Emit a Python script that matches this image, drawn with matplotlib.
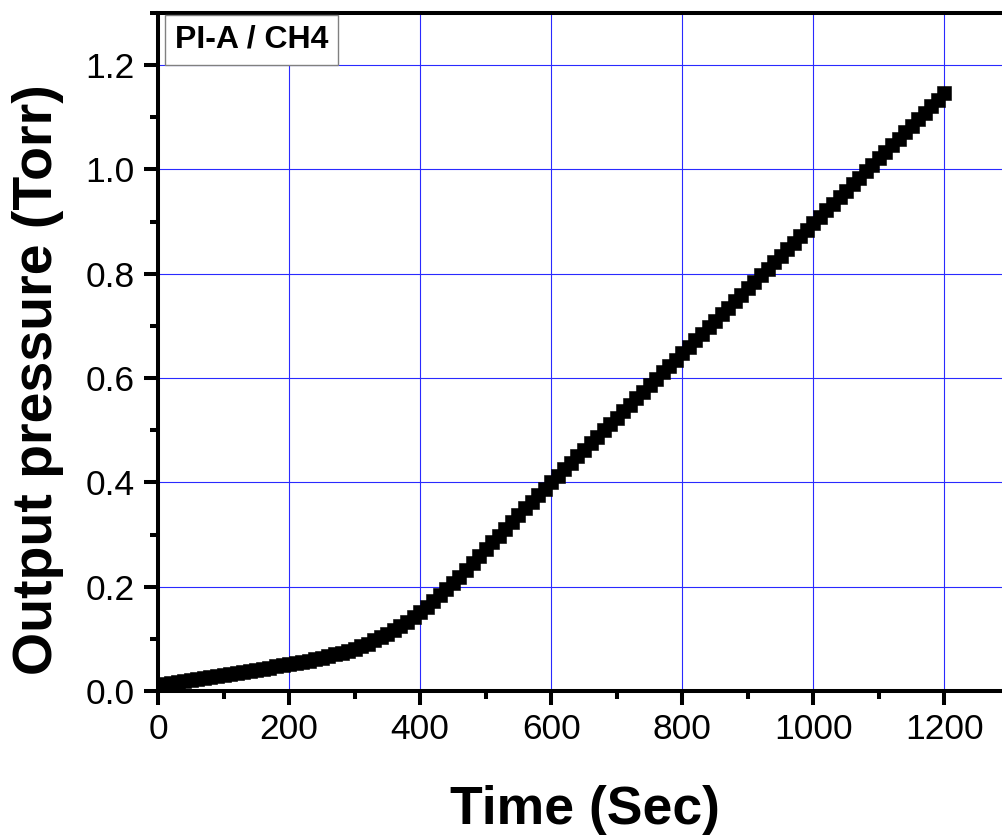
import matplotlib
matplotlib.use("Agg")
import matplotlib.pyplot as plt
from matplotlib.ticker import MultipleLocator

plt.rcParams['font.family'] = ['Liberation Sans', 'DejaVu Sans']

time_s = [0, 10, 20, 30, 40, 50, 60, 70, 80, 90,
          100, 110, 120, 130, 140, 150, 160, 170, 180, 190,
          200, 210, 220, 230, 240, 250, 260, 270, 280, 290,
          300, 310, 320, 330, 340, 350, 360, 370, 380, 390,
          400, 410, 420, 430, 440, 450, 460, 470, 480, 490,
          500, 510, 520, 530, 540, 550, 560, 570, 580, 590,
          600, 610, 620, 630, 640, 650, 660, 670, 680, 690,
          700, 710, 720, 730, 740, 750, 760, 770, 780, 790,
          800, 810, 820, 830, 840, 850, 860, 870, 880, 890,
          900, 910, 920, 930, 940, 950, 960, 970, 980, 990,
          1000, 1010, 1020, 1030, 1040, 1050, 1060, 1070, 1080, 1090,
          1100, 1110, 1120, 1130, 1140, 1150, 1160, 1170, 1180, 1190,
          1200]

pressure = [0.011, 0.013, 0.015, 0.017, 0.019, 0.021, 0.023, 0.025, 0.027, 0.029,
            0.031, 0.033, 0.035, 0.037, 0.039, 0.041, 0.043, 0.045, 0.047, 0.050,
            0.052, 0.054, 0.056, 0.058, 0.061, 0.064, 0.067, 0.070, 0.073, 0.077,
            0.081, 0.086, 0.091, 0.097, 0.103, 0.110, 0.117, 0.125, 0.133, 0.142,
            0.152, 0.162, 0.173, 0.184, 0.195, 0.207, 0.219, 0.232, 0.245, 0.258,
            0.272, 0.285, 0.298, 0.311, 0.324, 0.337, 0.350, 0.363, 0.376, 0.388,
            0.401, 0.413, 0.426, 0.438, 0.450, 0.463, 0.475, 0.487, 0.500, 0.512,
            0.524, 0.537, 0.549, 0.561, 0.574, 0.586, 0.598, 0.611, 0.623, 0.635,
            0.648, 0.660, 0.673, 0.685, 0.698, 0.710, 0.723, 0.735, 0.747, 0.760,
            0.772, 0.785, 0.797, 0.810, 0.822, 0.834, 0.847, 0.859, 0.872, 0.884,
            0.897, 0.909, 0.922, 0.934, 0.947, 0.959, 0.972, 0.984, 0.997, 1.009,
            1.022, 1.034, 1.047, 1.059, 1.072, 1.084, 1.097, 1.109, 1.122, 1.134,
            1.147]

x_ticks = [0, 200, 400, 600, 800, 1000, 1200]
y_ticks = [0.0, 0.2, 0.4, 0.6, 0.8, 1.0, 1.2]
y_tick_labels = ["0.0", "0.2", "0.4", "0.6", "0.8", "1.0", "1.2"]
label_text = "PI-A / CH4"
x_label = "Time (Sec)"
y_label = "Output pressure (Torr)"

W, H = 1002, 836
fig = plt.figure(figsize=(W / 100, H / 100), dpi=100)
ax = fig.add_axes([158 / W, 1 - 691 / H, (1010 - 158) / W, (691 - 13) / H])

ax.plot(time_s, pressure, linestyle='none', marker='s', markersize=10.3,
        markerfacecolor='black', markeredgecolor='black', markeredgewidth=0.4,
        zorder=3, clip_on=True)

ax.set_xlim(0, 1300)
ax.set_ylim(0, 1.3)
ax.set_xticks(x_ticks)
ax.set_xticklabels([str(v) for v in x_ticks])
ax.set_yticks(y_ticks)
ax.set_yticklabels(y_tick_labels)
ax.xaxis.set_minor_locator(MultipleLocator(100))
ax.yaxis.set_minor_locator(MultipleLocator(0.1))

ax.set_axisbelow(True)
ax.grid(True, which='major', color='#2a2aff', linewidth=0.8)

for side in ['left', 'bottom', 'top', 'right']:
    ax.spines[side].set_linewidth(2.9)
    ax.spines[side].set_color('black')

ax.tick_params(which='major', direction='out', length=10, width=2.9,
               labelsize=25.5, pad=6, top=False, right=False, color='black')
ax.tick_params(which='minor', direction='out', length=6, width=2.9,
               top=False, right=False, color='black')
ax.tick_params(axis='y', which='major', pad=7)

fig.text(584.5 / W, 1 - 824 / H, x_label, fontsize=38.5, fontweight='bold',
         ha='center', va='baseline')
fig.text(52 / W, 1 - 380 / H, y_label, fontsize=40, fontweight='bold',
         ha='center', va='baseline', rotation=90, rotation_mode='anchor')

ax.text((175 - 158) / 852, (691 - 40) / 678, label_text, transform=ax.transAxes,
        fontsize=23, fontweight='bold', ha='left', va='center',
        bbox=dict(boxstyle='square,pad=0.3', facecolor='white',
                  edgecolor='#808080', linewidth=1.0), zorder=5)

fig.savefig('out.png', dpi=100)
